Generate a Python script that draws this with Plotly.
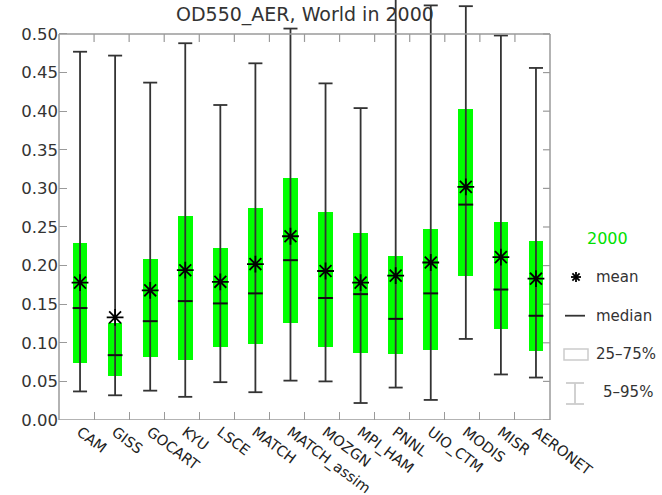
import plotly.graph_objects as go

models = ["CAM", "GISS", "GOCART", "KYU", "LSCE", "MATCH", "MATCH_assim", "MOZGN",
          "MPI_HAM", "PNNL", "UIO_CTM", "MODIS", "MISR", "AERONET"]
p05 = [0.037, 0.032, 0.038, 0.030, 0.049, 0.036, 0.051, 0.050, 0.022, 0.042, 0.026, 0.105, 0.059, 0.055]
p25 = [0.074, 0.057, 0.081, 0.078, 0.094, 0.098, 0.125, 0.094, 0.087, 0.085, 0.091, 0.187, 0.118, 0.089]
median = [0.145, 0.084, 0.128, 0.154, 0.151, 0.164, 0.207, 0.158, 0.163, 0.131, 0.164, 0.279, 0.169, 0.135]
mean = [0.178, 0.133, 0.168, 0.194, 0.179, 0.202, 0.238, 0.193, 0.178, 0.187, 0.204, 0.302, 0.211, 0.183]
p75 = [0.229, 0.125, 0.209, 0.264, 0.223, 0.275, 0.314, 0.269, 0.242, 0.213, 0.248, 0.403, 0.256, 0.232]
p95 = [0.477, 0.472, 0.437, 0.488, 0.408, 0.462, 0.507, 0.436, 0.404, 0.600, 0.537, 0.536, 0.498, 0.456]
y_ticks = [0.00, 0.05, 0.10, 0.15, 0.20, 0.25, 0.30, 0.35, 0.40, 0.45, 0.50]
title_text = "OD550_AER, World in 2000"
legend_title = "2000"
legend_labels = ["mean", "median", "25\u201375%", "5\u201395%"]

W, H = 662, 495
ML, MR, MT, MB = 59, 112, 0, 75
PW = W - ML - MR
PH = H - MT - MB
YMAX = 0.544
XMIN, XMAX = -0.6, 13.4
FONT = "DejaVu Sans"
FRAME = "#9a9a9a"
WHISK = "#333333"

xs = list(range(len(models)))
half = 0.2

fig = go.Figure()

# boxes 25-75%
fig.add_trace(go.Bar(
    x=xs, y=[b - a for a, b in zip(p25, p75)], base=p25, width=0.42,
    marker=dict(color="#00ff00", line=dict(width=0)), hoverinfo="skip", showlegend=False))

# whiskers + caps
wx, wy = [], []
for i, lo, hi in zip(xs, p05, p95):
    wx += [i, i, None, i - half, i + half, None, i - half, i + half, None]
    wy += [lo, hi, None, hi, hi, None, lo, lo, None]
fig.add_trace(go.Scatter(x=wx, y=wy, mode="lines", line=dict(color=WHISK, width=1.8),
                         hoverinfo="skip", showlegend=False))

# medians
mx, my = [], []
for i, m in zip(xs, median):
    mx += [i - 0.21, i + 0.21, None]
    my += [m, m, None]
fig.add_trace(go.Scatter(x=mx, y=my, mode="lines", line=dict(color="#111111", width=2),
                         hoverinfo="skip", showlegend=False))

# means
fig.add_trace(go.Scatter(x=xs, y=mean, mode="markers",
                         marker=dict(symbol="asterisk-open", size=14, color="black",
                                     line=dict(color="black", width=1.8)),
                         hoverinfo="skip", showlegend=False))

shapes = []
# frame
for (x0, y0, x1, y1) in [(0, 0, 0, 0.5), (1, 0, 1, 0.5), (0, 0, 1, 0), (0, 0.5, 1, 0.5)]:
    shapes.append(dict(type="line", xref="paper", yref="y", x0=x0, x1=x1, y0=y0, y1=y1,
                       line=dict(color=FRAME, width=1.5)))
# top ticks
tick_dy = 8 / (PH / YMAX)
for k in range(len(models) - 1):
    shapes.append(dict(type="line", xref="x", yref="y", x0=k + 0.4, x1=k + 0.4,
                       y0=0.5, y1=0.5 - tick_dy, line=dict(color=FRAME, width=1.2)))
# right ticks
for t in y_ticks:
    shapes.append(dict(type="line", xref="paper", yref="y", x0=1, x1=1 - 7 / PW,
                       y0=t, y1=t, line=dict(color=FRAME, width=1.2)))


def px(xp):
    return (xp - ML) / PW


def py(yp):
    return (MT + PH - yp) / PH


# legend glyphs
cx, cy, r = 576, 277, 5
for dx, dy in [(r, 0), (0, r), (r * 0.72, r * 0.72), (r * 0.72, -r * 0.72)]:
    shapes.append(dict(type="line", xref="paper", yref="paper",
                       x0=px(cx - dx), x1=px(cx + dx), y0=py(cy - dy), y1=py(cy + dy),
                       line=dict(color="black", width=1.8)))
shapes.append(dict(type="line", xref="paper", yref="paper", x0=px(565), x1=px(585),
                   y0=py(315.7), y1=py(315.7), line=dict(color="#333333", width=1.8)))
shapes.append(dict(type="rect", xref="paper", yref="paper", x0=px(564), x1=px(588),
                   y0=py(349), y1=py(360), line=dict(color="#cccccc", width=1.5)))
for (x0, y0, x1, y1) in [(575, 383, 575, 404), (566, 383, 584, 383), (566, 404, 584, 404)]:
    shapes.append(dict(type="line", xref="paper", yref="paper", x0=px(x0), x1=px(x1),
                       y0=py(y0), y1=py(y1), line=dict(color="#cccccc", width=1.8)))

annotations = [
    dict(text=title_text, xref="paper", yref="paper", x=0.5, y=py(15), showarrow=False,
         xanchor="center", yanchor="middle", font=dict(family=FONT, size=19, color="#333333")),
    dict(text=legend_title, xref="paper", yref="paper", x=px(607), y=py(238), showarrow=False,
         xanchor="center", yanchor="middle", font=dict(family=FONT, size=16, color="#00e000")),
]
for lab, xx, yy in zip(legend_labels, [594, 594, 594, 601], [277, 315.7, 354, 392]):
    annotations.append(dict(text=lab, xref="paper", yref="paper", x=px(xx), y=py(yy),
                            showarrow=False, xanchor="left", yanchor="middle",
                            font=dict(family=FONT, size=15, color="#333333")))

fig.update_layout(
    width=W, height=H, autosize=False,
    margin=dict(l=ML, r=MR, t=MT, b=MB, pad=0),
    paper_bgcolor="white", plot_bgcolor="white",
    showlegend=False, bargap=0,
    shapes=shapes, annotations=annotations,
    xaxis=dict(range=[XMIN, XMAX], tickmode="array", tickvals=xs, ticktext=models,
               tickangle=37, ticks="", showline=False, showgrid=False, zeroline=False,
               tickfont=dict(family=FONT, size=14.5, color="#222222"),
               minor=dict(tickmode="array", tickvals=[k + 0.4 for k in range(len(models) - 1)],
                          ticks="inside", ticklen=8, tickcolor=FRAME, tickwidth=1.2,
                          showgrid=False)),
    yaxis=dict(range=[0, YMAX], tickmode="array", tickvals=y_ticks,
               ticktext=["%.2f" % v for v in y_ticks], ticks="inside", ticklen=8,
               tickcolor=FRAME, tickwidth=1.2, showline=False, showgrid=False, zeroline=False,
               tickfont=dict(family=FONT, size=16.5, color="#333333")),
)

fig.write_html("out.html")
